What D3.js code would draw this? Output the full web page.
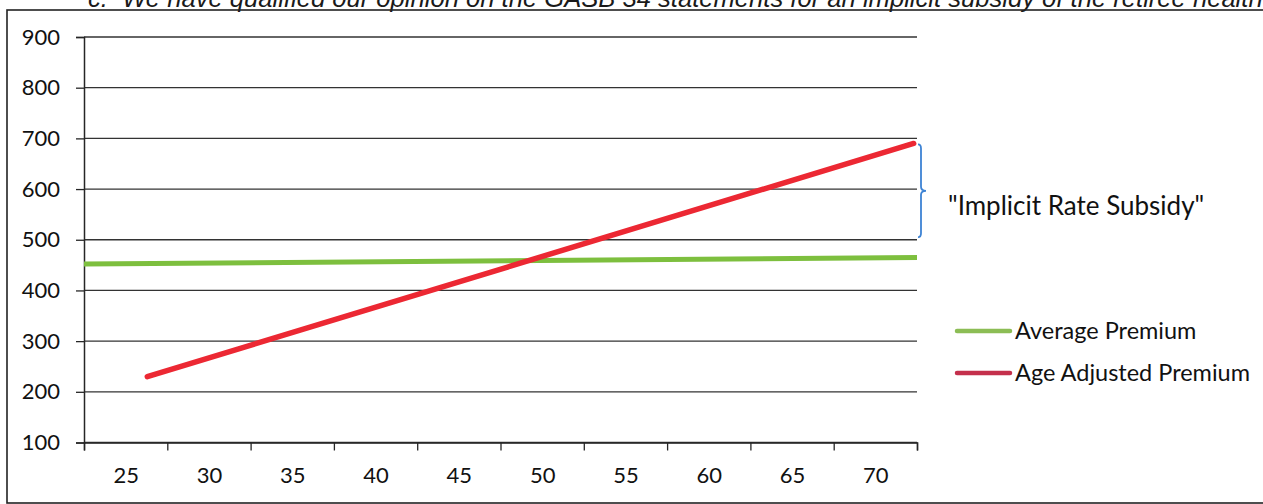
<!DOCTYPE html>
<html>
<head>
<meta charset="utf-8">
<script src="https://cdn.jsdelivr.net/npm/d3@7"></script>
<style>
	body { margin: 0; background: #fff; }
	svg { display: block; }
</style>
</head>
<body>
<svg id="chart" width="1263" height="504"></svg>
<script>
// tick labels on the age axis
const ageLabels = [25, 30, 35, 40, 45, 50, 55, 60, 65, 70];
const yTicks = [100, 200, 300, 400, 500, 600, 700, 800, 900];

// series (age, premium)
const avgAges = [22.5, 72.5];
const avgValues = [452, 465];
const adjAges = [26.3, 72.3];
const adjValues = [230, 690];

// bracket spans the gap at the oldest age
const subsidyRange = [690, 505];

const seriesNames = ['Average Premium', 'Age Adjusted Premium'];
const headerText = 'c.\u00a0\u00a0We have qualified our opinion on the GASB 34 statements for an implicit subsidy of the retiree health';

const colors = {
	avg: '#7dbf3e',
	adj: '#ec2833',
	avgKey: '#8cbd55',
	adjKey: '#c4304c',
	brace: '#3d83d4',
	ink: '#262626'
};

const svg = d3.select('#chart');
const plot = { left: 84, right: 917, top: 37, bottom: 442.5 };

const x = d3.scaleLinear()
	.domain([ageLabels[0] - 2.5, ageLabels[ageLabels.length - 1] + 2.5])
	.range([plot.left, plot.right]);

const y = d3.scaleLinear()
	.domain([100, 900])
	.range([plot.bottom, plot.top]);

// header line from the page, cut by the top edge as in the scan
svg.append('text')
	.attr('x', 88)
	.attr('y', 7)
	.attr('font-family', 'Liberation Sans, Arial, sans-serif')
	.attr('font-style', 'italic')
	.attr('font-size', 25.6)
	.attr('fill', '#1a1a1a')
	.text(headerText);

// frame of the pasted chart
svg.append('rect')
	.attr('x', 7)
	.attr('y', 10)
	.attr('width', 1300)
	.attr('height', 493)
	.attr('fill', 'none')
	.attr('stroke', '#222')
	.attr('stroke-width', 1.6);

// gridlines
svg.append('g')
	.selectAll('line')
	.data(yTicks)
	.join('line')
	.attr('x1', plot.left)
	.attr('x2', plot.right)
	.attr('y1', d => y(d))
	.attr('y2', d => y(d))
	.attr('stroke', '#333')
	.attr('stroke-width', 1.3);

// y axis
const yAxis = svg.append('g')
	.attr('transform', `translate(${plot.left},0)`)
	.call(d3.axisLeft(y).tickValues(yTicks).tickSize(8).tickPadding(16).tickFormat(d3.format('d')));

yAxis.select('.domain')
	.attr('stroke', colors.ink)
	.attr('stroke-width', 1.5);

yAxis.selectAll('.tick line')
	.attr('stroke', colors.ink)
	.attr('stroke-width', 1.3);

yAxis.selectAll('.tick text')
	.attr('font-family', 'Lato, sans-serif')
	.attr('font-size', 22)
	.attr('fill', '#111');

// x axis: tick marks between the labels
const boundaries = d3.range(0, ageLabels.length + 1).map(i => ageLabels[0] - 2.5 + i * 5);

const xTicks = svg.append('g')
	.attr('transform', `translate(0,${plot.bottom})`)
	.call(d3.axisBottom(x).tickValues(boundaries).tickSize(8).tickFormat(''));

xTicks.select('.domain')
	.attr('stroke', colors.ink)
	.attr('stroke-width', 1.5);

xTicks.selectAll('.tick line')
	.attr('stroke', colors.ink)
	.attr('stroke-width', 1.3);

const xLabels = svg.append('g')
	.attr('transform', `translate(0,${plot.bottom})`)
	.call(d3.axisBottom(x).tickValues(ageLabels).tickSize(0).tickPadding(25).tickFormat(d3.format('d')));

xLabels.select('.domain').remove();

xLabels.selectAll('.tick text')
	.attr('font-family', 'Lato, sans-serif')
	.attr('font-size', 22)
	.attr('fill', '#111');

// series lines
const line = d3.line()
	.x(d => x(d[0]))
	.y(d => y(d[1]));

svg.append('path')
	.datum(d3.zip(avgAges, avgValues))
	.attr('fill', 'none')
	.attr('stroke', colors.avg)
	.attr('stroke-width', 5)
	.attr('d', line);

svg.append('path')
	.datum(d3.zip(adjAges, adjValues))
	.attr('fill', 'none')
	.attr('stroke', colors.adj)
	.attr('stroke-width', 5.5)
	.attr('stroke-linecap', 'round')
	.attr('d', line);

// bracket and note
const bx = plot.right + 4;
const b0 = y(subsidyRange[0]) + 1, b1 = y(subsidyRange[1]);
const bm = (b0 + b1) / 2;

svg.append('path')
	.attr('fill', 'none')
	.attr('stroke', colors.brace)
	.attr('stroke-width', 1.8)
	.attr('d', `M${bx - 3},${b0} Q${bx},${b0} ${bx},${b0 + 4} L${bx},${bm - 4} Q${bx},${bm} ${bx + 5},${bm} Q${bx},${bm} ${bx},${bm + 4} L${bx},${b1 - 4} Q${bx},${b1} ${bx - 3},${b1}`);

svg.append('text')
	.attr('x', 948)
	.attr('y', bm + 24)
	.attr('font-family', 'Lato, sans-serif')
	.attr('font-size', 26)
	.attr('fill', '#111')
	.text('"Implicit Rate Subsidy"');

// legend
const legend = svg.append('g')
	.selectAll('g')
	.data(seriesNames)
	.join('g')
	.attr('transform', (d, i) => `translate(957,${331 + i * 42})`);

legend.append('line')
	.attr('x1', 0)
	.attr('x2', 53)
	.attr('stroke', (d, i) => i ? colors.adjKey : colors.avgKey)
	.attr('stroke-width', 4.5)
	.attr('stroke-linecap', 'round');

legend.append('text')
	.attr('x', 58)
	.attr('dy', '0.35em')
	.attr('font-family', 'Lato, sans-serif')
	.attr('font-size', 23.5)
	.attr('fill', '#111')
	.text(d => d);
</script>
</body>
</html>
